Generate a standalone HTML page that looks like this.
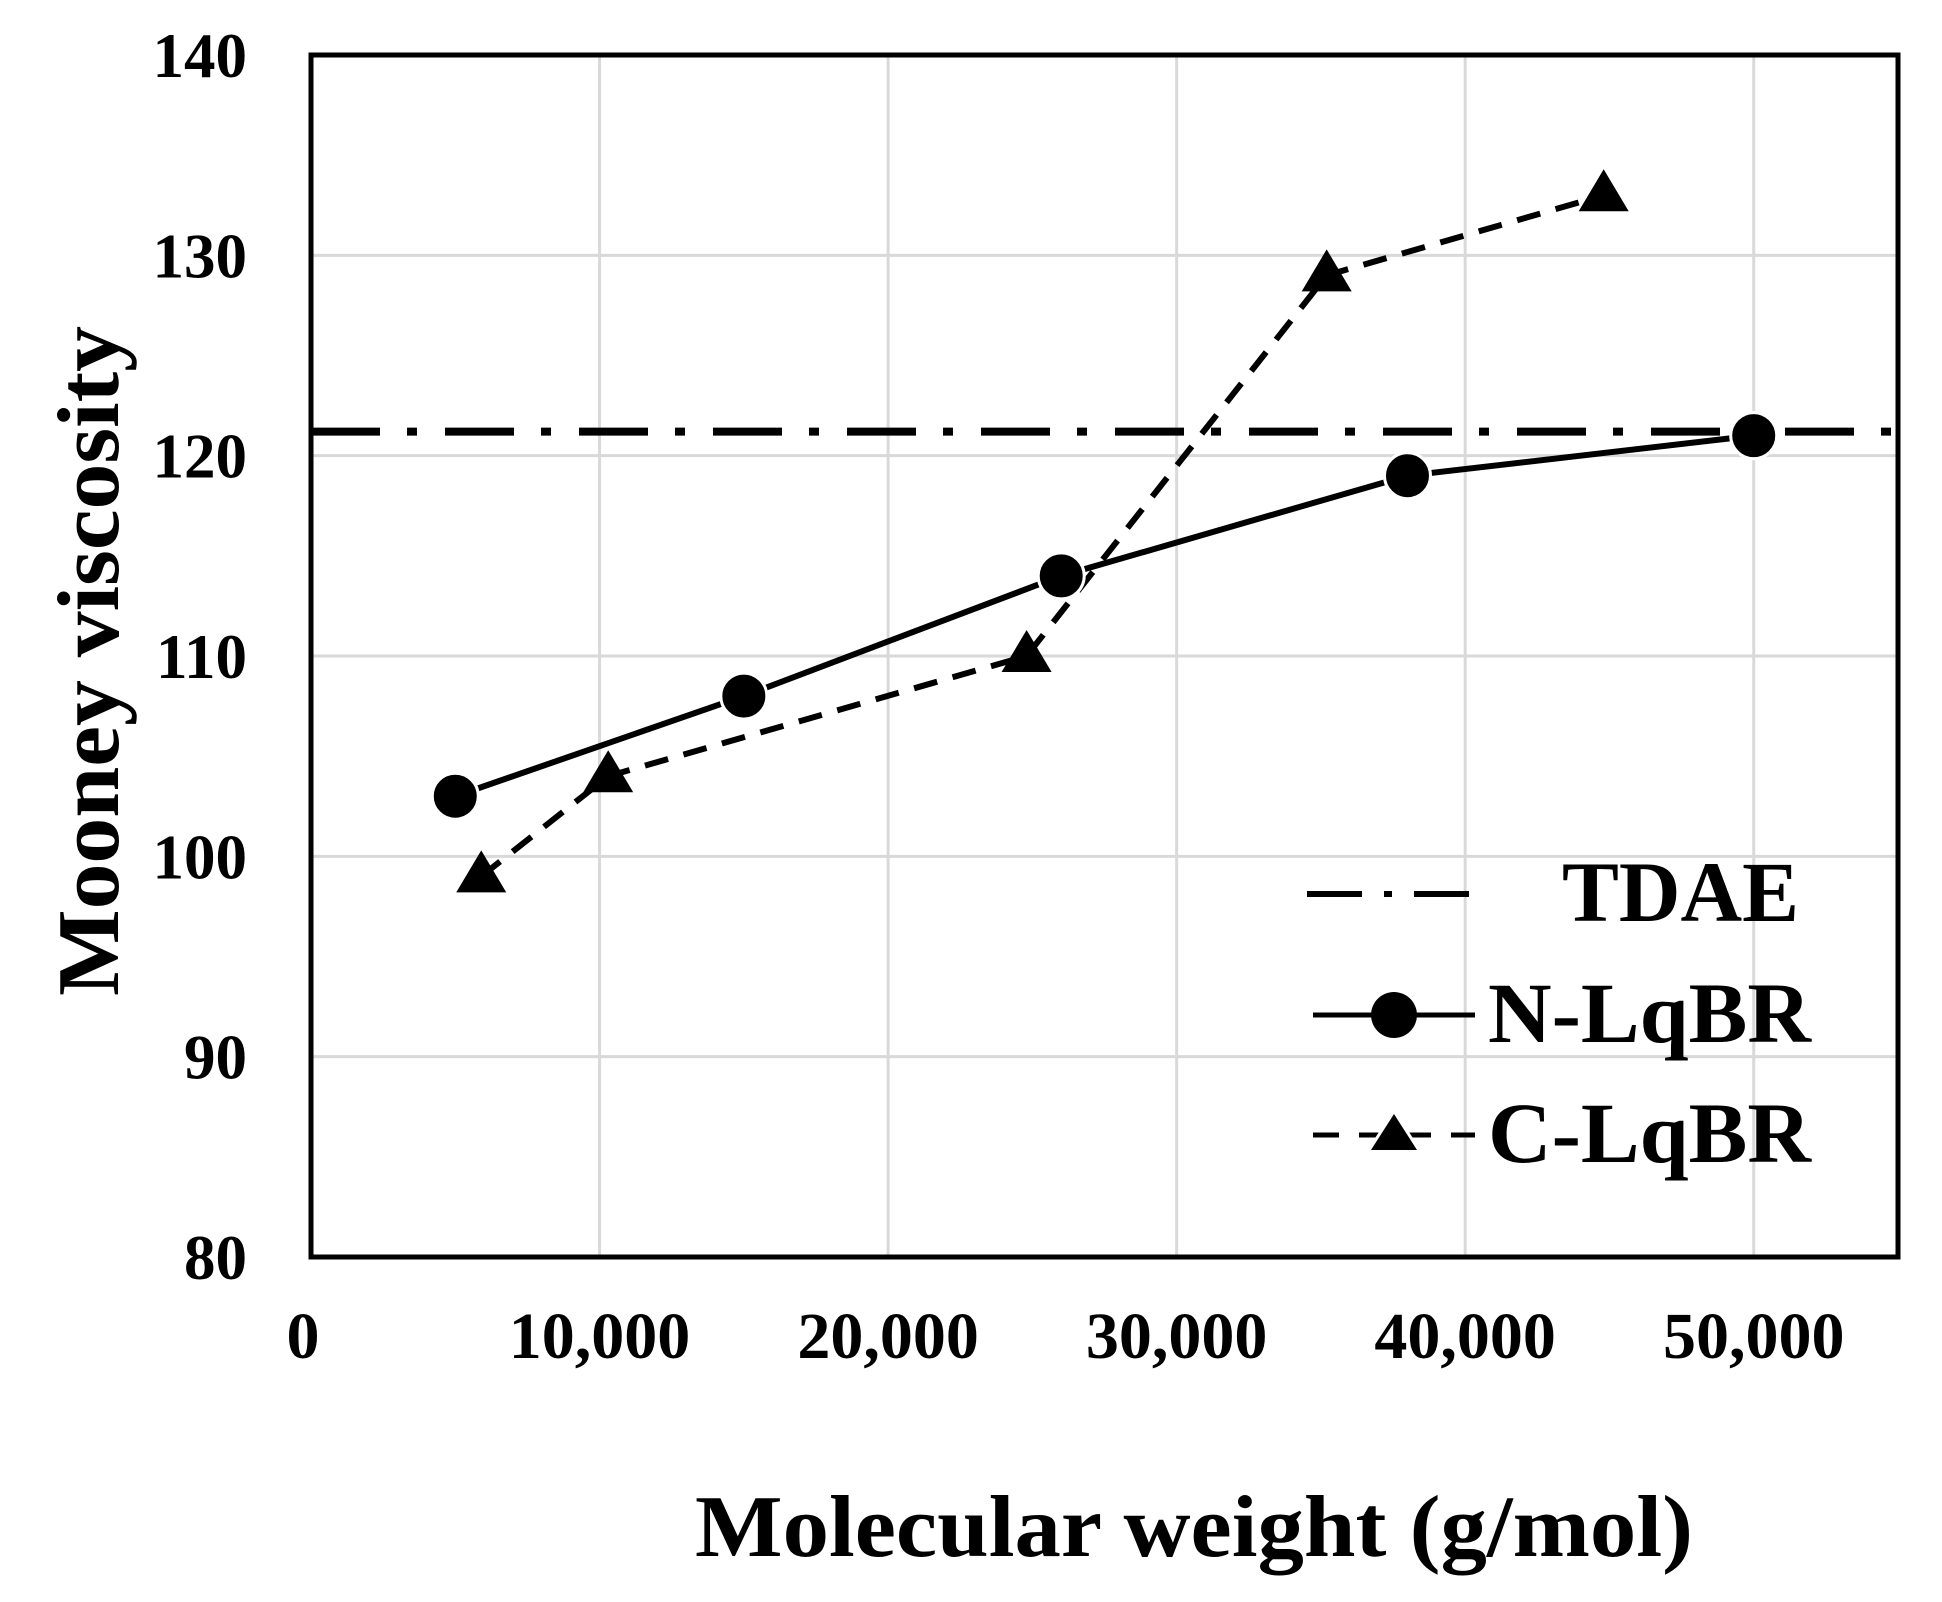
<!DOCTYPE html>
<html><head><meta charset="utf-8"><style>
html,body{margin:0;padding:0;background:#fff;}
svg{display:block;font-family:"Liberation Serif",serif;font-weight:bold;}
</style></head><body>
<svg id="chart" width="1942" height="1602" viewBox="0 0 1942 1602" xmlns="http://www.w3.org/2000/svg">
<g id="grid"></g>
<g id="ticks"></g>
<g id="series"></g>
<rect x="311" y="55" width="1587" height="1202" fill="none" stroke="#000" stroke-width="5"/>
<text x="695" y="1556" font-size="88" textLength="998" lengthAdjust="spacingAndGlyphs">Molecular weight (g/mol)</text>
<text transform="translate(118,996) rotate(-90)" font-size="88" textLength="670" lengthAdjust="spacingAndGlyphs">Mooney viscosity</text>
<g>
  <line x1="1307" y1="894" x2="1482" y2="894" stroke="#000" stroke-width="6" stroke-dasharray="55 22 8 22"/>
  <text x="1562" y="921" font-size="86" textLength="237" lengthAdjust="spacingAndGlyphs">TDAE</text>
  <line x1="1313" y1="1015" x2="1475" y2="1015" stroke="#000" stroke-width="5"/>
  <circle cx="1394" cy="1015" r="23" fill="#000"/>
  <text x="1488" y="1042" font-size="86" textLength="323" lengthAdjust="spacingAndGlyphs">N-LqBR</text>
  <line x1="1313" y1="1135" x2="1475" y2="1135" stroke="#000" stroke-width="5" stroke-dasharray="26 20"/>
  <polygon points="1394,1114 1417,1150 1371,1150" fill="#000" stroke="#fff" stroke-width="6" paint-order="stroke"/>
  <text x="1488" y="1162" font-size="86" textLength="323" lengthAdjust="spacingAndGlyphs">C-LqBR</text>
</g>
</svg>
<script>
const xTicks = [0, 10000, 20000, 30000, 40000, 50000];
const xTickLabels = ["0", "10,000", "20,000", "30,000", "40,000", "50,000"];
const yTicks = [80, 90, 100, 110, 120, 130, 140];
const nX = [5000, 15000, 26000, 38000, 50000];
const nY = [103, 108, 114, 119, 121];
const cX = [5900, 10300, 24800, 35200, 44800];
const cY = [99, 104, 110, 129, 133];
const tdaeY = 121.2;

const L = 311, R = 1898, T = 55, B = 1257, XMAX = 55000, YMIN = 80, YMAX = 140;
const sx = v => L + (v / XMAX) * (R - L);
const sy = v => B - (v - YMIN) / (YMAX - YMIN) * (B - T);
const NS = "http://www.w3.org/2000/svg";
function mk(tag, parent, attrs) {
  const e = document.createElementNS(NS, tag);
  for (const k in attrs) e.setAttribute(k, attrs[k]);
  parent.appendChild(e);
  return e;
}
const grid = document.getElementById('grid');
const ticks = document.getElementById('ticks');
const series = document.getElementById('series');

xTicks.forEach((v, i) => {
  if (v > 0) {
    const g = mk('line', grid, {x1: sx(v), x2: sx(v), y1: T, y2: B, stroke: '#d9d9d9', 'stroke-width': 3});
    
    
  }
  const t = mk('text', ticks, {x: sx(v) - (v === 0 ? 8 : 0), y: 1358, 'font-size': 66, 'text-anchor': 'middle'});
  t.textContent = xTickLabels[i];
  
  
});
yTicks.forEach(v => {
  if (v > YMIN && v < YMAX) {
    const g = mk('line', grid, {x1: L, x2: R, y1: sy(v), y2: sy(v), stroke: '#d9d9d9', 'stroke-width': 3});
    
    
  }
  const t = mk('text', ticks, {x: 247, y: sy(v) + 22, 'font-size': 63, 'text-anchor': 'end'});
  t.textContent = String(v);
  
  
});

const tl = mk('line', series, {x1: L, x2: 1917, y1: sy(tdaeY), y2: sy(tdaeY), stroke: '#000', 'stroke-width': 8, 'stroke-dasharray': '69 27 10 28'});



const cl = mk('polyline', series, {points: cX.map((x, i) => sx(x) + ',' + sy(cY[i])).join(' '), fill: 'none', stroke: '#000', 'stroke-width': 6, 'stroke-dasharray': '24 16'});



const nl = mk('polyline', series, {points: nX.map((x, i) => sx(x) + ',' + sy(nY[i])).join(' '), fill: 'none', stroke: '#000', 'stroke-width': 6});



cX.forEach((x, i) => {
  const cx = sx(x), cy = sy(cY[i]);
  const p = mk('polygon', series, {points: `${cx},${cy - 26} ${cx + 25},${cy + 16} ${cx - 25},${cy + 16}`, fill: '#000'});
  
  
});
nX.forEach((x, i) => {
  const c = mk('circle', series, {cx: sx(x), cy: sy(nY[i]), r: 23, fill: '#000', stroke: '#fff', 'stroke-width': 3});
  
  
});
</script>
</body></html>
